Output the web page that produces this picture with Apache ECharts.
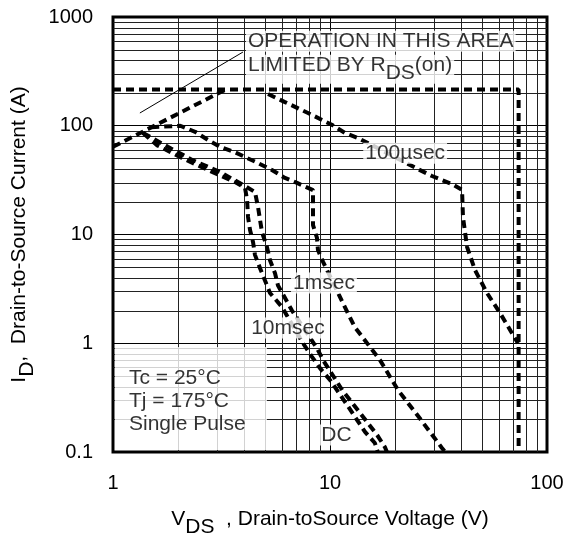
<!DOCTYPE html>
<html>
<head>
<meta charset="utf-8">
<script src="https://cdn.jsdelivr.net/npm/echarts@6/dist/echarts.min.js"></script>
<style>
  html, body { margin: 0; padding: 0; background: #fff; }
  #chart { width: 574px; height: 535px; }
</style>
</head>
<body>
<div id="chart"></div>
<script>
const FONT = "'Liberation Sans', Arial, Helvetica, sans-serif";

// log grid lines between decades
const xMinor = [2, 3, 4, 5, 6, 7, 8, 9, 20, 30, 40, 50, 60, 70, 80, 90];
const yMinor = [0.2, 0.3, 0.4, 0.5, 0.6, 0.7, 0.8, 0.9, 2, 3, 4, 5, 6, 7, 8, 9,
                20, 30, 40, 50, 60, 70, 80, 90, 200, 300, 400, 500, 600, 700, 800, 900];

// [VDS (V), ID (A)]
const rdsOn = [[1, 64], [3.3, 215]];
const limitLine = [[1, 215], [74, 215], [74, 0.1]];
const us100 = [[5.18, 196], [6.2, 165], [7.92, 131], [10.2, 102], [11.7, 86], [13.5, 77],
               [25.4, 40], [29.5, 34.5], [36.5, 29.1], [40.6, 25.7], [41, 14.5], [42.8, 7.7],
               [46.6, 4.7], [52.9, 2.9], [60.7, 1.9], [73.5, 1.0]];
const ms1 = [[1.5, 97], [2.04, 100], [2.39, 88], [2.74, 74], [3.11, 64], [3.65, 57], [4.15, 50.5],
             [4.66, 45.4], [5.4, 39.2], [6.2, 33.1], [7.05, 29.8], [7.92, 26.8], [8.35, 25.6],
             [8.35, 12.2], [8.71, 9.3], [8.8, 7.2], [9.29, 5.6], [11.4, 2.4], [13.0, 1.41],
             [17.0, 0.70], [20.6, 0.37], [25.2, 0.22], [32.8, 0.109], [34, 0.1]];
const ms10 = [[1.375, 86], [1.79, 64], [2.34, 48], [3.11, 37.6], [4.06, 27.9], [4.51, 24.6],
              [4.66, 17.9], [4.76, 13.6], [4.86, 10.5], [5.12, 7.7], [5.29, 5.8], [5.58, 4.4],
              [5.76, 3.4], [6.68, 2.0], [8.71, 0.9], [9.29, 0.7], [11.4, 0.37], [13.5, 0.24],
              [16.5, 0.143], [17.9, 0.111], [18.3, 0.1]];
const dc = [[1.375, 86], [1.6, 66], [2.08, 50.5], [2.74, 39.2], [3.65, 30.4], [4.06, 26.8],
            [4.15, 20.7], [4.19, 14.5], [4.28, 11], [4.42, 8.5], [4.51, 6.5], [4.76, 4.9],
            [5.01, 3.8], [5.29, 2.9], [6.01, 2.15], [7.51, 1.0], [8.26, 0.75], [8.99, 0.59],
            [10, 0.46], [12, 0.27], [14.5, 0.153], [16.1, 0.121], [16.6, 0.1]];
const pointer = [[1.33, 131], [3.97, 476]];

const chart = echarts.init(document.getElementById('chart'));

const dashed = {color: '#000', width: 4, type: [8, 5]};
function curve(name, data) {
  return {
    name: name, type: 'line', data: data, z: 3,
    showSymbol: false, symbol: 'none', silent: true,
    lineStyle: dashed
  };
}

function gridLines(vals, vertical) {
  return {
    type: 'custom', z: 1, silent: true, clip: true,
    data: vals.map(v => vertical ? [v, 1] : [1, v]),
    renderItem: function (params, api) {
      const v = vertical ? api.value(0) : api.value(1);
      const a = vertical ? api.coord([v, 0.1]) : api.coord([1, v]);
      const b = vertical ? api.coord([v, 1000]) : api.coord([100, v]);
      return {
        type: 'line',
        shape: {x1: Math.round(a[0]) + 0.5, y1: Math.round(a[1]) + 0.5,
                x2: Math.round(b[0]) + 0.5, y2: Math.round(b[1]) + 0.5},
        style: {stroke: '#222', lineWidth: 1}
      };
    }
  };
}

const tick = {fontFamily: FONT, fontSize: 20, color: '#000'};
const txt = {fontFamily: FONT, fontSize: 21, color: '#000'};
// subscript: same size, dropped by (29 - 21) px
const subRich = {
  a: Object.assign({lineHeight: 21, verticalAlign: 'top'}, txt),
  s: Object.assign({lineHeight: 29, verticalAlign: 'bottom'}, txt)
};

const notes = [
  {value: [4.1, 600], label: {formatter: 'OPERATION IN THIS AREA', position: 'right', distance: 0}},
  {value: [4.1, 330], label: {formatter: '{a|LIMITED BY R}{s|DS}{a|(on)}', position: 'right', distance: 0, rich: subRich}},
  {value: [22.2, 56], label: {formatter: '100µsec', position: 'inside'}},
  {value: [9.38, 3.58], label: {formatter: '1msec', position: 'inside'}},
  {value: [6.4, 1.38], label: {formatter: '10msec', position: 'inside'}},
  {value: [10.7, 0.143], label: {formatter: 'DC', position: 'inside'}},
  {value: [1.021, 0.1043], label: {
    formatter: 'Tc = 25°C\nTj = 175°C\nSingle Pulse', position: [0, 0],
    align: 'left', verticalAlign: 'bottom', lineHeight: 23,
    width: 138, padding: [20, 0, 14, 14]
  }}
];

chart.setOption({
  animation: false,
  backgroundColor: '#fff',
  grid: {
    left: 113, right: 27, top: 17, bottom: 83, outerBoundsMode: 'none', containLabel: false,
    show: true, borderColor: '#000', borderWidth: 3
  },
  xAxis: {
    type: 'log', logBase: 10, min: 1, max: 100,
    name: '{v|V}{s|DS}{v|  , Drain-toSource Voltage (V)}',
    nameLocation: 'middle', nameGap: 57,
    nameTextStyle: {rich: {v: subRich.a, s: subRich.s}},
    axisLine: {show: false}, axisTick: {show: false},
    axisLabel: Object.assign({margin: 21, formatter: v => String(+(+v).toPrecision(3))}, tick),
    splitLine: {show: true, lineStyle: {color: '#000', width: 1}}
  },
  yAxis: {
    type: 'log', logBase: 10, min: 0.1, max: 1000,
    name: '{v|I}{s|D}{v|,  Drain-to-Source Current (A)}',
    nameLocation: 'middle', nameGap: 62,
    nameTextStyle: {rich: {v: subRich.a, s: subRich.s}},
    axisLine: {show: false}, axisTick: {show: false},
    axisLabel: Object.assign({margin: 20, formatter: v => String(+(+v).toPrecision(3))}, tick),
    splitLine: {show: true, lineStyle: {color: '#000', width: 1}}
  },
  series: [
    gridLines(xMinor, true),
    gridLines(yMinor, false),
    {
      type: 'line', data: pointer, z: 3, silent: true, symbol: 'none',
      lineStyle: {color: '#000', width: 1}
    },
    curve('limit', limitLine),
    curve('rds', rdsOn),
    curve('100us', us100),
    curve('1ms', ms1),
    curve('10ms', ms10),
    curve('DC', dc),
    {
      type: 'scatter', z: 6, silent: true, symbolSize: 0,
      data: notes,
      label: Object.assign({show: true, backgroundColor: '#fff', padding: [0, 2]}, txt)
    }
  ]
});
</script>
</body>
</html>
